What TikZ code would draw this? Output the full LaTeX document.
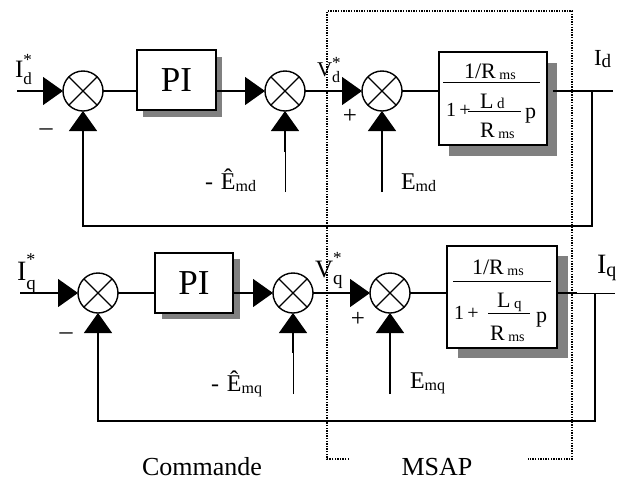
\documentclass[tikz,border=0pt]{standalone}
\usepackage{fontspec}
\setmainfont{Liberation Serif}
\usetikzlibrary{arrows.meta,shadows}
\newcommand{\fs}[1]{\fontsize{#1pt}{#1pt}\selectfont}
\begin{document}
\begin{tikzpicture}[x=1pt,y=-1pt,
  every node/.style={inner sep=0pt,outer sep=0pt},
  wire/.style={line width=1.4pt},
  thinwire/.style={line width=0.7pt},
  arr/.style={wire,-{Triangle[width=28pt,length=20pt]}},
  sumnode/.style={circle,draw,line width=1.4pt,minimum size=40pt,fill=white,
    path picture={\draw[line width=1.2pt]
      ([shift={(-14.1pt,-14.1pt)}]path picture bounding box.center) -- ([shift={(14.1pt,14.1pt)}]path picture bounding box.center)
      ([shift={(-14.1pt,14.1pt)}]path picture bounding box.center) -- ([shift={(14.1pt,-14.1pt)}]path picture bounding box.center);}},
  blk/.style={draw,line width=1.4pt,fill=white},
  fracline/.style={line width=0.9pt},
  msapframe/.style={line width=1.3pt,dash pattern=on 1.4pt off 1.2pt},
  lab/.style={anchor=base west,font=\fs{24}},
  sgn/.style={anchor=base,font=\fs{25}},
  captxt/.style={anchor=base,font=\fs{26}}
]
\useasboundingbox (0,0) rectangle (624,480);

% ---------- d axis ----------
\node[sumnode] (s1d) at (83,91) {};
\node[sumnode] (s2d) at (285,91) {};
\node[sumnode] (s3d) at (382,91) {};
\node[blk,minimum width=79pt,minimum height=60pt,font=\fs{35},
  drop shadow={shadow xshift=6pt,shadow yshift=-7pt,fill=black!50,opacity=1}] (PId) at (176.5,80) {PI};
\node[blk,minimum width=108pt,minimum height=93pt,
  drop shadow={shadow xshift=10pt,shadow yshift=-11pt,fill=black!50,opacity=1}] (TFd) at (493,98.5) {};

\coordinate (ind) at (17,91);
\coordinate (outd) at (613,91);
\coordinate (brd) at (592,91);
\coordinate (fbd) at (592,226);
\coordinate (e2d) at (285,192);
\coordinate (m2d) at (285,152);
\coordinate (e3d) at (382,192);

\draw[arr] (ind) -- (s1d);
\draw[wire] (s1d) -- (s1d -| PId.west);
\draw[arr] (PId.east |- s2d) -- (s2d);
\draw[arr] (s2d) -- (s3d);
\draw[wire] (s3d) -- (s3d -| TFd.west);
\draw[wire] ([xshift=6pt]TFd.east |- s3d) -- (outd);
\draw[arr] (brd) -- (fbd) -| (s1d);
\draw[thinwire] (e2d) -- (m2d);
\draw[arr] (m2d) -- (s2d);
\draw[arr] (e3d) -- (s3d);

% transfer function d
\node[anchor=base west,font=\fs{22}] (numd) at (464,78) {1/R\,\raisebox{-1pt}{\fs{14}ms}};
\coordinate (fdl) at (443,82);
\coordinate (fdr) at (540,82);
\draw[fracline] (fdl) -- (fdr);
\node[anchor=base west,font=\fs{20}] (oned) at (446,116) {1\,+};
\node[anchor=base west,font=\fs{22}] (Ld) at (480,108) {L\,{\fs{15}d}};
\coordinate (idl) at (468,111);
\coordinate (idr) at (521,111);
\draw[line width=0.8pt] (idl) -- (idr);
\node[anchor=base west,font=\fs{22}] (Rd) at (480,137) {R\,\raisebox{-1pt}{\fs{14}ms}};
\node[anchor=base west,font=\fs{22}] (pd) at (525,118) {p};

% labels d
\node[anchor=base west,font=\fs{25}] (lIds) at (15,77) {I\rlap{\raisebox{12pt}{\fs{17}*}}\raisebox{-7pt}{\fs{17}d}};
\node[anchor=base west,font=\fs{21}] (lVds) at (317,76) {V\rlap{\raisebox{7.5pt}{\fs{17}*}}\raisebox{-6pt}{\fs{16}d}};
\node[anchor=base west,font=\fs{23}] (lId) at (594,65) {I\raisebox{-2pt}{\fs{19}d}};
\node[lab] (lEhd) at (205,189) {-\,\,Ê\raisebox{-2pt}{\fs{16}md}};
\node[lab] (lEd) at (401,189) {E\raisebox{-2pt}{\fs{16}md}};
\node[sgn,font=\fs{26}] (mind) at (46,135.5) {–};
\node[sgn] (plsd) at (350,123.3) {+};

% ---------- q axis ----------
\node[sumnode] (s1q) at (98,293) {};
\node[sumnode] (s2q) at (293,293) {};
\node[sumnode] (s3q) at (390,293) {};
\node[blk,minimum width=78pt,minimum height=60pt,font=\fs{35},
  drop shadow={shadow xshift=7pt,shadow yshift=-6pt,fill=black!50,opacity=1}] (PIq) at (194,283) {PI};
\node[blk,minimum width=110pt,minimum height=102pt,
  drop shadow={shadow xshift=11pt,shadow yshift=-10pt,fill=black!50,opacity=1}] (TFq) at (502,297) {};

\coordinate (inq) at (20,293);
\coordinate (outq) at (615,293);
\coordinate (thq) at (577,293);
\coordinate (brq) at (595,293);
\coordinate (fbq) at (595,421);
\coordinate (e2q) at (293,394);
\coordinate (m2q) at (293,353);
\coordinate (e3q) at (390,394);

\draw[arr] (inq) -- (s1q);
\draw[wire] (s1q) -- (s1q -| PIq.west);
\draw[arr] (PIq.east |- s2q) -- (s2q);
\draw[arr] (s2q) -- (s3q);
\draw[wire] (s3q) -- (s3q -| TFq.west);
\draw[wire] (TFq.east |- s3q) -- (thq);
\draw[thinwire] (thq) -- (outq);
\draw[arr] (brq) -- (fbq) -| (s1q);
\draw[thinwire] (e2q) -- (m2q);
\draw[arr] (m2q) -- (s2q);
\draw[arr] (e3q) -- (s3q);

% transfer function q
\node[anchor=base west,font=\fs{22}] (numq) at (472,274) {1/R\,\raisebox{-1pt}{\fs{14}ms}};
\coordinate (fql) at (453,281);
\coordinate (fqr) at (551,281);
\draw[fracline] (fql) -- (fqr);
\node[anchor=base west,font=\fs{20}] (oneq) at (454,319) {1\,+};
\node[anchor=base west,font=\fs{22}] (Lq) at (497,307) {L\,\raisebox{-1pt}{\fs{15}q}};
\coordinate (iql) at (488,313);
\coordinate (iqr) at (530,313);
\draw[line width=0.8pt] (iql) -- (iqr);
\node[anchor=base west,font=\fs{22}] (Rq) at (490,340) {R\,\raisebox{-1pt}{\fs{14}ms}};
\node[anchor=base west,font=\fs{22}] (pq) at (536,322) {p};

% labels q
\node[anchor=base west,font=\fs{28}] (lIqs) at (17,280) {I\rlap{\raisebox{15pt}{\fs{18}*}}\raisebox{-9pt}{\fs{19}q}};
\node[anchor=base west,font=\fs{25}] (lVqs) at (315,277) {V\rlap{\raisebox{13.5pt}{\fs{17}*}}\raisebox{-7pt}{\fs{19}q}};
\node[anchor=base west,font=\fs{28}] (lIq) at (597,273) {I\raisebox{-3pt}{\fs{20}q}};
\node[lab] (lEhq) at (211,391) {-\,\,Ê\raisebox{-2pt}{\fs{16}mq}};
\node[lab] (lEq) at (410,388) {E\raisebox{-2pt}{\fs{16}mq}};
\node[sgn,font=\fs{26}] (minq) at (66,339.5) {–};
\node[sgn] (plsq) at (358,326.3) {+};

% captions
\node[captxt] (cmd) at (202,475) {Commande};
\node[captxt] (msap) at (437,475) {MSAP};

% dotted MSAP frame
\coordinate (fa) at (349,459);
\coordinate (fb) at (327,459);
\coordinate (fc) at (327,11);
\coordinate (fd) at (572,11);
\coordinate (fe) at (572,459);
\coordinate (ff) at (528,459);
\draw[msapframe] (fa) -- (fb) -- (fc) -- (fd) -- (fe) -- (ff);
\end{tikzpicture}
\end{document}
